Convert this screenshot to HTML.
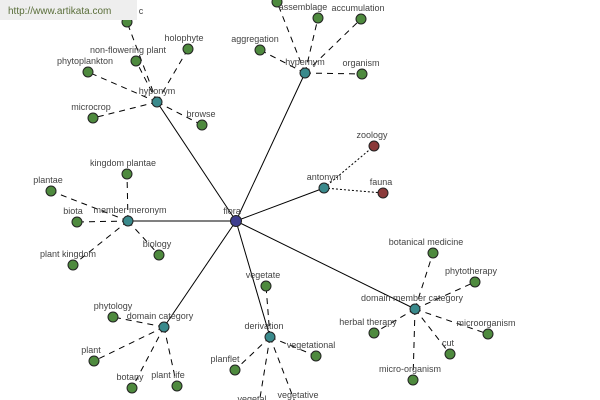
<!DOCTYPE html>
<html><head><meta charset="utf-8"><style>
html,body{margin:0;padding:0;background:#fff;}
svg{display:block;}
text{font-family:"Liberation Sans",sans-serif;font-size:9px;fill:#444;text-anchor:middle;}
.s{stroke:#000;stroke-width:1;}
.d{stroke:#000;stroke-width:1;stroke-dasharray:6,5;}
.o{stroke:#000;stroke-width:1;stroke-dasharray:2,2;}
circle{stroke:#222;stroke-width:1;}
.g{fill:#4e8a3e;}.t{fill:#3a8a8c;}.r{fill:#8b3a3a;}.b{fill:#3d3d8f;}
</style></head><body>
<svg width="600" height="400" viewBox="0 0 600 400" xmlns="http://www.w3.org/2000/svg">
<!-- solid edges -->
<line class="s" x1="236" y1="221" x2="157" y2="102"/>
<line class="s" x1="236" y1="221" x2="305" y2="73"/>
<line class="s" x1="236" y1="221" x2="128" y2="221"/>
<line class="s" x1="236" y1="221" x2="324" y2="188"/>
<line class="s" x1="236" y1="221" x2="164" y2="327"/>
<line class="s" x1="236" y1="221" x2="270" y2="337"/>
<line class="s" x1="236" y1="221" x2="415" y2="309"/>
<!-- hyponym -->
<line class="d" x1="157" y1="102" x2="127" y2="22"/>
<line class="d" x1="157" y1="102" x2="136" y2="61"/>
<line class="d" x1="157" y1="102" x2="188" y2="49"/>
<line class="d" x1="157" y1="102" x2="88" y2="72"/>
<line class="d" x1="157" y1="102" x2="93" y2="118"/>
<line class="d" x1="157" y1="102" x2="202" y2="125"/>
<!-- hypernym -->
<line class="d" x1="305" y1="73" x2="277" y2="2"/>
<line class="d" x1="305" y1="73" x2="318" y2="18"/>
<line class="d" x1="305" y1="73" x2="361" y2="19"/>
<line class="d" x1="305" y1="73" x2="260" y2="50"/>
<line class="d" x1="305" y1="73" x2="362" y2="74"/>
<!-- antonym -->
<line class="o" x1="324" y1="188" x2="374" y2="146"/>
<line class="o" x1="324" y1="188" x2="383" y2="193"/>
<!-- member meronym -->
<line class="d" x1="128" y1="221" x2="127" y2="174"/>
<line class="d" x1="128" y1="221" x2="51" y2="191"/>
<line class="d" x1="128" y1="221" x2="77" y2="222"/>
<line class="d" x1="128" y1="221" x2="73" y2="265"/>
<line class="d" x1="128" y1="221" x2="159" y2="255"/>
<!-- domain category -->
<line class="d" x1="164" y1="327" x2="113" y2="317"/>
<line class="d" x1="164" y1="327" x2="94" y2="361"/>
<line class="d" x1="164" y1="327" x2="132" y2="388"/>
<line class="d" x1="164" y1="327" x2="177" y2="386"/>
<!-- derivation -->
<line class="d" x1="270" y1="337" x2="266" y2="286"/>
<line class="d" x1="270" y1="337" x2="316" y2="356"/>
<line class="d" x1="270" y1="337" x2="235" y2="370"/>
<line class="d" x1="270" y1="337" x2="258" y2="410"/>
<line class="d" x1="270" y1="337" x2="298" y2="410"/>
<!-- domain member category -->
<line class="d" x1="415" y1="309" x2="433" y2="253"/>
<line class="d" x1="415" y1="309" x2="475" y2="282"/>
<line class="d" x1="415" y1="309" x2="374" y2="333"/>
<line class="d" x1="415" y1="309" x2="488" y2="334"/>
<line class="d" x1="415" y1="309" x2="450" y2="354"/>
<line class="d" x1="415" y1="309" x2="413" y2="380"/>

<!-- nodes -->
<g>
<circle class="g" cx="127" cy="22" r="5"/>
<circle class="g" cx="136" cy="61" r="5"/>
<circle class="g" cx="188" cy="49" r="5"/>
<circle class="g" cx="88" cy="72" r="5"/>
<circle class="g" cx="93" cy="118" r="5"/>
<circle class="g" cx="202" cy="125" r="5"/>
<circle class="g" cx="277" cy="2" r="5"/>
<circle class="g" cx="318" cy="18" r="5"/>
<circle class="g" cx="361" cy="19" r="5"/>
<circle class="g" cx="260" cy="50" r="5"/>
<circle class="g" cx="362" cy="74" r="5"/>
<circle class="r" cx="374" cy="146" r="5"/>
<circle class="r" cx="383" cy="193" r="5"/>
<circle class="g" cx="127" cy="174" r="5"/>
<circle class="g" cx="51" cy="191" r="5"/>
<circle class="g" cx="77" cy="222" r="5"/>
<circle class="g" cx="73" cy="265" r="5"/>
<circle class="g" cx="159" cy="255" r="5"/>
<circle class="g" cx="113" cy="317" r="5"/>
<circle class="g" cx="94" cy="361" r="5"/>
<circle class="g" cx="132" cy="388" r="5"/>
<circle class="g" cx="177" cy="386" r="5"/>
<circle class="g" cx="266" cy="286" r="5"/>
<circle class="g" cx="316" cy="356" r="5"/>
<circle class="g" cx="235" cy="370" r="5"/>
<circle class="g" cx="433" cy="253" r="5"/>
<circle class="g" cx="475" cy="282" r="5"/>
<circle class="g" cx="374" cy="333" r="5"/>
<circle class="g" cx="488" cy="334" r="5"/>
<circle class="g" cx="450" cy="354" r="5"/>
<circle class="g" cx="413" cy="380" r="5"/>
<circle class="t" cx="157" cy="102" r="5"/>
<circle class="t" cx="305" cy="73" r="5"/>
<circle class="t" cx="128" cy="221" r="5"/>
<circle class="t" cx="324" cy="188" r="5"/>
<circle class="t" cx="164" cy="327" r="5"/>
<circle class="t" cx="270" cy="337" r="5"/>
<circle class="t" cx="415" cy="309" r="5"/>
<circle class="b" cx="236" cy="221" r="5.5"/>
</g>

<!-- labels -->
<text x="141" y="14">c</text>
<text x="128" y="53">non-flowering plant</text>
<text x="184" y="41">holophyte</text>
<text x="85" y="64">phytoplankton</text>
<text x="91" y="110">microcrop</text>
<text x="201" y="117">browse</text>
<text x="157" y="94">hyponym</text>
<text x="303" y="10">assemblage</text>
<text x="358" y="11">accumulation</text>
<text x="255" y="42">aggregation</text>
<text x="361" y="66">organism</text>
<text x="305" y="65">hypernym</text>
<text x="372" y="138">zoology</text>
<text x="381" y="185">fauna</text>
<text x="324" y="180">antonym</text>
<text x="123" y="166">kingdom plantae</text>
<text x="48" y="183">plantae</text>
<text x="73" y="214">biota</text>
<text x="68" y="257">plant kingdom</text>
<text x="157" y="247">biology</text>
<text x="130" y="213">member meronym</text>
<text x="232" y="214">flora</text>
<text x="113" y="309">phytology</text>
<text x="160" y="319">domain category</text>
<text x="91" y="353">plant</text>
<text x="130" y="380">botany</text>
<text x="168" y="378">plant life</text>
<text x="263" y="278">vegetate</text>
<text x="264" y="329">derivation</text>
<text x="311" y="348">vegetational</text>
<text x="225" y="362">planflet</text>
<text x="252" y="402">vegetal</text>
<text x="298" y="398">vegetative</text>
<text x="426" y="245">botanical medicine</text>
<text x="471" y="274">phytotherapy</text>
<text x="412" y="301">domain member category</text>
<text x="368" y="325">herbal therapy</text>
<text x="486" y="326">microorganism</text>
<text x="448" y="346">cut</text>
<text x="410" y="372">micro-organism</text>

<!-- watermark -->
<rect x="0" y="0" width="137" height="20" fill="#eeeeee"/>
<text x="8" y="14" style="text-anchor:start;font-size:10px;fill:#5a6e3a">http://www.artikata.com</text>
</svg>
</body></html>
